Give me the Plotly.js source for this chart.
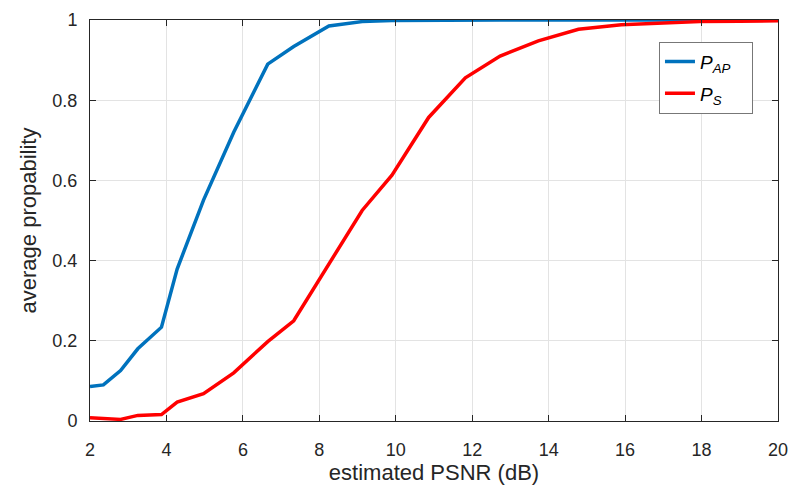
<!DOCTYPE html>
<html>
<head>
<meta charset="utf-8">
<script src="https://cdn.plot.ly/plotly-3.0.1.min.js"></script>
<style>html,body{margin:0;padding:0;background:#fff;}#chart{width:794px;height:488px;}</style>
</head>
<body>
<div id="chart"></div>
<script>
const psnr = [2, 2.35, 2.8, 3.25, 3.87, 4.28, 4.97, 5.76, 6.65, 7.33, 8.25, 9.12, 9.9, 10.86, 11.82, 12.73, 13.73, 14.78, 15.9, 17, 17.95, 19, 20];
const pAP  = [0.086, 0.09, 0.126, 0.18, 0.234, 0.379, 0.551, 0.72, 0.89, 0.934, 0.985, 0.996, 0.999, 1, 1, 1, 1, 1, 1, 1, 1, 1, 1];
const pS   = [0.008, 0.007, 0.004, 0.014, 0.016, 0.047, 0.068, 0.12, 0.198, 0.25, 0.39, 0.525, 0.613, 0.757, 0.856, 0.91, 0.948, 0.977, 0.988, 0.992, 0.996, 0.997, 0.998];
const xTicks = [2, 4, 6, 8, 10, 12, 14, 16, 18, 20];
const yTicks = [0, 0.2, 0.4, 0.6, 0.8, 1];
const yTickText = ['0', '0.2', '0.4', '0.6', '0.8', '1'];

const font = 'Liberation Sans, Arial, Helvetica, sans-serif';
const traces = [
  {x: psnr, y: pAP, mode: 'lines', legendgroup: 'a', name: '<i>P</i><sub><i>AP</i></sub>\u00a0\u00a0\u00a0', line: {color: '#0072BD', width: 3.5}},
  {x: psnr, y: pS, mode: 'lines', legendgroup: 'b', name: '<i>P</i><sub><i>S</i></sub>', line: {color: '#FF0000', width: 3.5}}
];
const axisCommon = {
  showline: true, linecolor: '#262626', linewidth: 1, mirror: 'ticks',
  ticks: 'inside', ticklen: 6, tickcolor: '#262626', tickwidth: 1,
  showgrid: true, gridcolor: '#e3e3e3', gridwidth: 1, zeroline: false,
  tickfont: {family: font, size: 18, color: '#262626'}
};
const layout = {
  width: 794, height: 488,
  margin: {l: 90, r: 16, t: 20, b: 67},
  paper_bgcolor: '#fff', plot_bgcolor: '#fff',
  showlegend: true,
  legend: {x: 0.827, y: 0.946, xanchor: 'left', yanchor: 'top',
    bordercolor: '#777', borderwidth: 1, bgcolor: '#fff',
    traceorder: 'grouped', tracegroupgap: 4,
    font: {family: font, size: 19, color: '#000'}},
  xaxis: Object.assign({}, axisCommon, {range: [2, 20], tickvals: xTicks, ticklabelstandoff: 12,
    title: {text: 'estimated PSNR (dB)', font: {family: font, size: 22, color: '#262626'}, standoff: 5}}),
  yaxis: Object.assign({}, axisCommon, {range: [0, 1], tickvals: yTicks, ticktext: yTickText, ticklabelstandoff: 8,
    title: {text: 'average propability', font: {family: font, size: 22, color: '#262626'}, standoff: 9}})
};
Plotly.newPlot('chart', traces, layout, {displayModeBar: false, staticPlot: true});
</script>
</body>
</html>
